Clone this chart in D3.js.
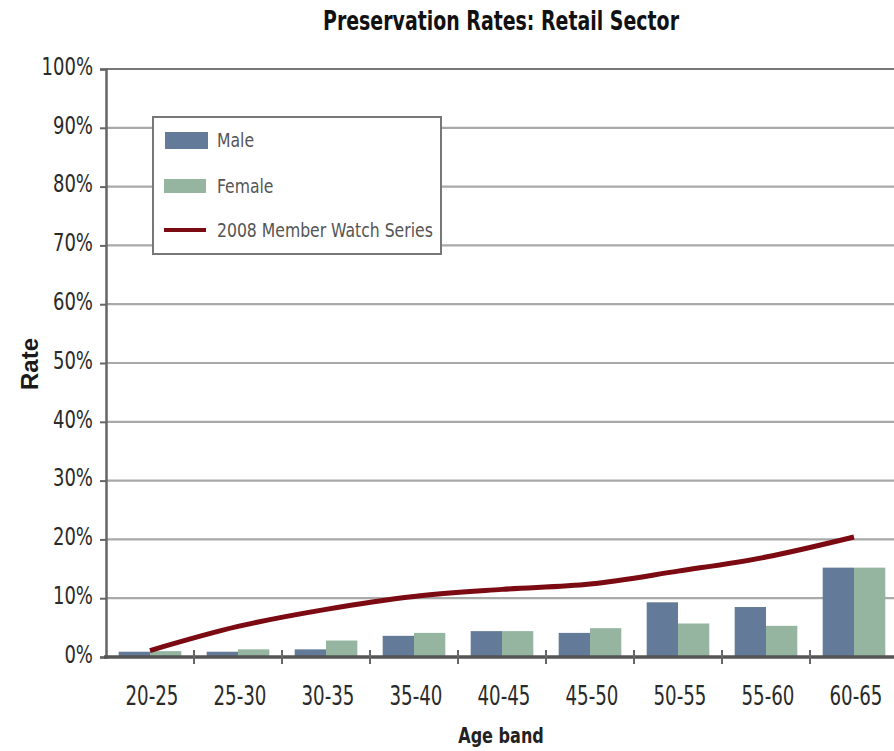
<!DOCTYPE html>
<html><head><meta charset="utf-8">
<script src="https://cdn.jsdelivr.net/npm/d3@7"></script>
<style>body{margin:0;background:#fff}svg{display:block}</style>
</head><body>
<svg id="c" width="894" height="751"></svg>
<script>
const categories = ["20-25","25-30","30-35","35-40","40-45","45-50","50-55","55-60","60-65"];
const maleValues = [0.9, 0.9, 1.3, 3.6, 4.4, 4.1, 9.3, 8.5, 15.2];
const femaleValues = [1.0, 1.3, 2.8, 4.1, 4.4, 4.9, 5.7, 5.3, 15.2];
const seriesValues = [1.1, 5.2, 8.1, 10.3, 11.5, 12.4, 14.6, 17.0, 20.4];
const yTicks = [0,10,20,30,40,50,60,70,80,90,100];
const seriesNames = ["Male","Female","2008 Member Watch Series"];

const FONT = "'DejaVu Sans Condensed','Liberation Sans Narrow',sans-serif";
const svg = d3.select("#c");
const x = d3.scaleBand().domain(categories).range([106, 898]).paddingInner(0).paddingOuter(0);
const y = d3.scaleLinear().domain([0,100]).range([657, 69]);
const inner = d3.scaleBand().domain(["m","f"]).range([0, x.bandwidth()]).paddingOuter(0.405).paddingInner(0);

function label(px, py, sx, txt, opts) {
  const t = svg.append("text").attr("transform", `translate(${px},${py}) scale(${sx},1)`)
    .attr("font-family", FONT).text(txt);
  Object.entries(opts).forEach(([k,v]) => t.attr(k, v));
  return t;
}

// gridlines
svg.append("g").selectAll("line").data(yTicks.filter(d=>d>0)).join("line")
  .attr("x1",106).attr("x2",898).attr("y1",d=>y(d)).attr("y2",d=>y(d))
  .attr("stroke",d=>d===100?"#777":"#a9a9a9").attr("stroke-width",2.2);

// bars
const gb = svg.append("g");
gb.selectAll("rect.m").data(categories).join("rect")
  .attr("x",(d)=>x(d)+inner("m")).attr("width",inner.bandwidth())
  .attr("y",(d,i)=>y(maleValues[i])).attr("height",(d,i)=>y(0)-y(maleValues[i]))
  .attr("fill","#637a98");
gb.selectAll("rect.f").data(categories).join("rect")
  .attr("x",(d)=>x(d)+inner("f")).attr("width",inner.bandwidth())
  .attr("y",(d,i)=>y(femaleValues[i])).attr("height",(d,i)=>y(0)-y(femaleValues[i]))
  .attr("fill","#95b5a0");

// y axis
const yAxis = d3.axisLeft(y).tickValues(yTicks).tickFormat(d=>d+"%").tickSize(6).tickPadding(10.3);
const ya = svg.append("g").attr("transform","translate(106,0)").call(yAxis);
ya.select(".domain").attr("stroke","#666").attr("stroke-width",2.5);
ya.selectAll(".tick line").attr("stroke","#666").attr("stroke-width",2);
ya.selectAll(".tick text").attr("font-family",FONT).attr("font-size",25).attr("fill","#2a2a2a")
  .attr("dy","0.21em").attr("transform","scale(0.8,1)");

// x axis
const xa = svg.append("g").attr("transform","translate(0,657)")
  .call(d3.axisBottom(x).tickSize(0).tickPadding(29));
xa.select(".domain").remove();
xa.append("line").attr("x1",104).attr("x2",898).attr("y1",0).attr("y2",0).attr("stroke","#555").attr("stroke-width",3.5);
xa.selectAll(".bt").data(categories.slice(1)).join("line")
  .attr("x1",d=>x(d)).attr("x2",d=>x(d)).attr("y1",-7).attr("y2",7)
  .attr("stroke","#666").attr("stroke-width",2);
xa.selectAll(".tick text").attr("font-family",FONT).attr("font-size",27).attr("fill","#2a2a2a")
  .attr("transform","translate(2,0) scale(0.75,1)");

// line
const line = d3.line().x((d,i)=>x(categories[i])+x.bandwidth()/2).y(d=>y(d)).curve(d3.curveMonotoneX);
svg.append("path").datum(seriesValues).attr("d",line).attr("fill","none")
  .attr("stroke","#7b0a12").attr("stroke-width",5).attr("stroke-linecap","butt");

// title
label(501, 30, 0.78, "Preservation Rates: Retail Sector",
  {"text-anchor":"middle","font-weight":"bold","font-size":27,"fill":"#111"});
// axis titles
label(501, 743, 0.85, "Age band",
  {"text-anchor":"middle","font-weight":"bold","font-size":21,"fill":"#222"});
svg.append("text").attr("transform","translate(38,364) rotate(-90)").attr("text-anchor","middle")
  .attr("font-family","'Liberation Sans','DejaVu Sans',sans-serif").attr("font-weight","bold").attr("font-size",24).attr("fill","#1a1a1a")
  .text("Rate");

// legend
const lg = svg.append("g");
lg.append("rect").attr("x",153).attr("y",117).attr("width",288).attr("height",137)
  .attr("fill","#fff").attr("stroke","#777").attr("stroke-width",2);
const ly = [140, 186, 230];
lg.append("rect").attr("x",165).attr("y",132).attr("width",43).attr("height",17).attr("fill","#637a98");
lg.append("rect").attr("x",164).attr("y",179).attr("width",42).attr("height",14).attr("fill","#95b5a0");
lg.append("line").attr("x1",164).attr("x2",206).attr("y1",230).attr("y2",230).attr("stroke","#7b0a12").attr("stroke-width",4);
seriesNames.forEach((n,i) => label(217, ly[i], 0.87, n, {"dy":"0.35em","font-size":20,"fill":"#555"}));
</script>
</body></html>
